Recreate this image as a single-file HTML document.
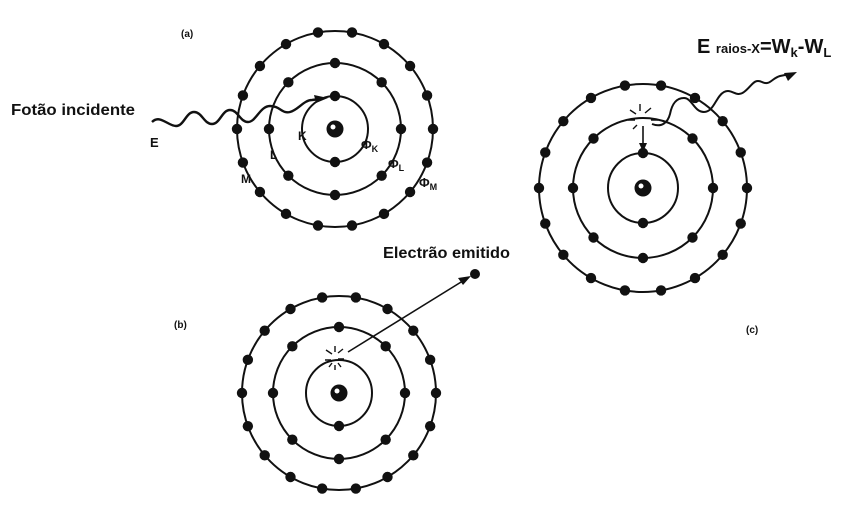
<!DOCTYPE html>
<html><head><meta charset="utf-8"><style>
html,body{margin:0;padding:0;background:#fff;width:858px;height:531px;overflow:hidden}
svg{display:block}
text{font-family:"Liberation Sans",sans-serif}
</style></head><body>
<svg id="s" width="858" height="531" viewBox="0 0 858 531" xmlns="http://www.w3.org/2000/svg">
<g fill="none" stroke="#111" stroke-width="2">
<circle cx="335" cy="129" r="33"/><circle cx="335" cy="129" r="66"/><circle cx="335" cy="129" r="98"/>
<circle cx="339" cy="393" r="33"/><circle cx="339" cy="393" r="66"/><circle cx="339" cy="393" r="97"/>
<circle cx="643" cy="188" r="35"/><circle cx="643" cy="188" r="70"/><circle cx="643" cy="188" r="104"/>
<path stroke-width="2.4" d="M152,122 C160,114 168,126 176,126 C184,126 186,112 194,112 C202,112 204,124 212,124 C220,124 222,110 230,110 C238,110 240,122 248,122 C256,122 260,106 270,106 C280,106 282,114 290,112 C298,110 304,100 312,100 L320,99"/>
<path stroke-width="1.6" d="M348,352 L466,279"/>
<path stroke-width="2" d="M652,124 C662,128 668,122 670,114 C672,104 676,98 684,98 C692,98 694,112 704,112 C714,112 716,96 724,92 C732,88 736,98 744,92 C752,86 754,78 762,82 C770,86 772,78 780,76 L790,74"/>
<path stroke-width="1.6" d="M643,126 L643,146"/>
<g stroke-width="1.4">
<path d="M326,350 l6,4 M343,349 l-5,4 M335,346 v6 M325,360 h6 M344,359 h-6 M329,367 l3,-4 M341,367 l-3,-4 M335,370 v-5"/>
<path d="M630,110 l6,4 M651,108 l-6,5 M640,104 v7 M628,120 h7 M658,120 h-7 M633,129 l4,-4"/>
</g>
</g>
<g fill="#111">
<polygon points="328,98 314,95 316,103"/>
<polygon points="471,276 458,278 463,285"/>
<polygon points="797,72 784,73 788,81"/>
<polygon points="643,152 639,143 647,143"/>
<circle cx="475" cy="274" r="5"/>
</g>
<g id="dots" fill="#111"></g>
<g font-weight="bold" fill="#111">
<text x="11" y="115" font-size="16" textLength="124" lengthAdjust="spacingAndGlyphs">Fotão incidente</text>
<text x="383" y="258" font-size="16" textLength="127" lengthAdjust="spacingAndGlyphs">Electrão emitido</text>
<text x="697" y="53" font-size="20">E <tspan font-size="13">raios-X</tspan>=W<tspan font-size="13" dy="4">k</tspan><tspan dy="-4">-W</tspan><tspan font-size="13" dy="4">L</tspan></text>
<text x="150" y="147" font-size="13">E</text>
<text x="181" y="37" font-size="10">(a)</text>
<text x="174" y="328" font-size="10">(b)</text>
<text x="746" y="333" font-size="10">(c)</text>
<text x="298" y="140" font-size="12">K</text>
<text x="270" y="159" font-size="12">L</text>
<text x="241" y="183" font-size="12">M</text>
<text x="361" y="149" font-size="13">Φ<tspan font-size="9" dy="3">K</tspan></text>
<text x="388" y="168" font-size="13">Φ<tspan font-size="9" dy="3">L</tspan></text>
<text x="419" y="187" font-size="13">Φ<tspan font-size="9" dy="3">M</tspan></text>
</g>
<script>
var g=document.getElementById('dots'),ns='http://www.w3.org/2000/svg';
function dot(x,y,r){var c=document.createElementNS(ns,'circle');c.setAttribute('cx',x);c.setAttribute('cy',y);c.setAttribute('r',r||5.2);g.appendChild(c);}
function atom(cx,cy,rk,rl,rm,skipK,skipL){
 [0,180].forEach(function(a){if(skipK&&a==0)return;dot(cx+rk*Math.sin(a*Math.PI/180),cy-rk*Math.cos(a*Math.PI/180));});
 for(var a=0;a<360;a+=45){if(skipL&&a==0)continue;dot(cx+rl*Math.sin(a*Math.PI/180),cy-rl*Math.cos(a*Math.PI/180));}
 for(var a=10;a<360;a+=20){dot(cx+rm*Math.sin(a*Math.PI/180),cy-rm*Math.cos(a*Math.PI/180));}
 dot(cx,cy,8.5);var h=document.createElementNS(ns,'circle');h.setAttribute('cx',cx-2);h.setAttribute('cy',cy-2);h.setAttribute('r',2.5);h.setAttribute('fill','#fff');g.appendChild(h);
}
atom(335,129,33,66,98,false,false);
atom(339,393,33,66,97,true,false);
atom(643,188,35,70,104,false,true);
</script>
</svg>
</body></html>
